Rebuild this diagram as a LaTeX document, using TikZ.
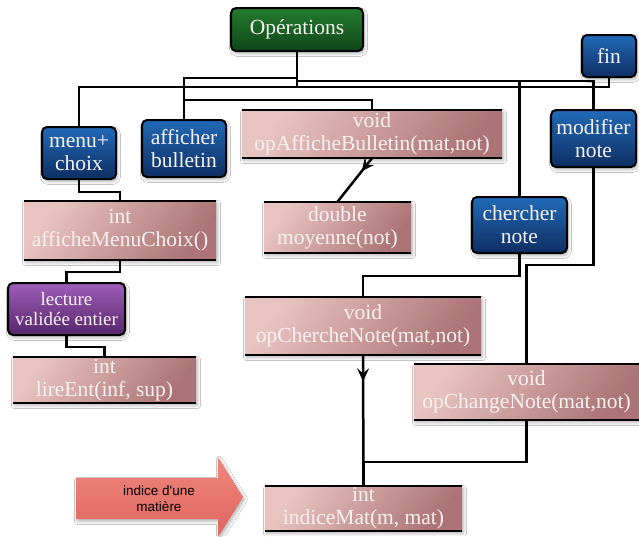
\documentclass[tikz,border=0pt]{standalone}
\usepackage{fontspec}
\setmainfont{Liberation Serif}
\newfontfamily\sansf{Liberation Sans}
\usetikzlibrary{shadows.blur,decorations.markings,arrows.meta}
\definecolor{blueT}{RGB}{33,106,184}
\definecolor{blueB}{RGB}{14,46,98}
\definecolor{greenT}{RGB}{36,124,46}
\definecolor{greenB}{RGB}{14,70,26}
\definecolor{purT}{RGB}{158,94,186}
\definecolor{purB}{RGB}{86,38,106}
\definecolor{pinkL}{RGB}{232,196,192}
\definecolor{pinkD}{RGB}{172,116,118}
\definecolor{salT}{RGB}{240,134,126}
\definecolor{salB}{RGB}{222,102,94}
\definecolor{txtW}{RGB}{248,242,242}
\tikzset{
  lbl/.style={font=\fontsize{21.5}{23}\selectfont, text=txtW, align=center, inner sep=0pt},
  soft/.style={blur shadow={shadow blur steps=6, shadow xshift=1.5pt, shadow yshift=-2.5pt, shadow blur radius=3pt, shadow opacity=30}},
  catbox/.style={lbl, draw=black, line width=2pt, rounded corners=5pt, soft},
  bluebox/.style={catbox, top color=blueT, bottom color=blueB},
  greenbox/.style={catbox, top color=greenT, bottom color=greenB},
  purbox/.style={catbox, top color=purT, bottom color=purB, font=\fontsize{19}{20}\selectfont},
  funcbox/.style={lbl, top color=pinkL, bottom color=pinkD, shading angle=55, soft},
  wire/.style={line width=2.5pt, draw=black},
  midarrow/.style={postaction={decorate}, decoration={markings, mark=at position #1 with {\arrow{Stealth[length=13pt,width=12pt,inset=5pt]}}}},
  bigarrow/.style={top color=salT, bottom color=salB, soft},
  arrowtext/.style={font=\sansf\fontsize{13.5}{16}\selectfont, text=black, align=center, inner sep=0pt}
}
\begin{document}
\begin{tikzpicture}[x=1pt,y=-1pt]
\useasboundingbox (0,0) rectangle (639,536);
\fill[white] (0,0) rectangle (639,536);

% category boxes
\node[greenbox, minimum width=132pt, minimum height=43pt] (ops) at (297,29.5) {Opérations};
\node[bluebox, minimum width=54pt, minimum height=42pt] (fin) at (609,56) {fin};
\node[bluebox, minimum width=85pt, minimum height=57pt] (mod) at (593.5,138.5) {modifier\\note};
\node[bluebox, minimum width=84pt, minimum height=57pt] (afb) at (184,148.5) {afficher\\bulletin};
\node[bluebox, minimum width=74pt, minimum height=52pt] (menu) at (79,153) {menu+\\choix};
\node[bluebox, minimum width=95pt, minimum height=56pt] (cher) at (519.5,225) {chercher\\note};
\node[purbox, minimum width=117pt, minimum height=52pt] (lect) at (66.5,309) {lecture\\validée entier};

% function boxes
\node[funcbox, minimum width=260pt, minimum height=48pt] (opa) at (372,134) {void\\opAfficheBulletin(mat,not)};
\node[funcbox, minimum width=192pt, minimum height=59pt] (amc) at (120,230.5) {int\\afficheMenuChoix()};
\node[funcbox, minimum width=183pt, minimum height=46pt] (lire) at (104.5,380) {int\\lireEnt(inf, sup)};
\node[funcbox, minimum width=147pt, minimum height=51pt] (moy) at (337.5,227.5) {double\\moyenne(not)};
\node[funcbox, minimum width=236pt, minimum height=58pt] (ocn) at (363,326) {void\\opChercheNote(mat,not)};
\node[funcbox, minimum width=225pt, minimum height=56pt] (ocg) at (526.5,392) {void\\opChangeNote(mat,not)};
\node[funcbox, minimum width=197pt, minimum height=45pt] (im) at (363.5,508.5) {int\\indiceMat(m, mat)};
\foreach \n in {opa,amc,lire,moy,ocn,ocg,im}{
  \draw[wire] (\n.north west) -- (\n.north east);
  \draw[wire] (\n.south west) -- (\n.south east);
}

% big arrow
\path[bigarrow] (76,478) -- (218,478) -- (218,457) -- (243,497) -- (218,537) -- (218,519) -- (76,519) -- cycle;
\node[arrowtext] (ilab) at (159,499) {indice d'une\\matière};

% connectors
\draw[wire] (ops.south) -- ++(0,26) -| (afb.north);
\draw[wire] (ops.south) -- ++(0,35) -| (menu.north);
\draw[wire] (ops.south) -- ++(0,35) -| (fin.south);
\draw[wire] (ops.south) -- ++(0,29) coordinate (jr) -| (mod.north);
\draw[wire] (cher.north |- jr) -- (cher.north);
\draw[wire] (afb.north) -- ++(0,-19) -| (opa.north);
\draw[wire, midarrow=0.3] (opa.south) -- (moy.north);
\draw[wire] (menu.south) -- ++(0,12) -| (amc.north);
\draw[wire] (amc.south) -- ++(0,12) -| (lect.north);
\draw[wire] (lect.south) -- ++(0,11) -| (lire.north);
\draw[wire] (cher.south) -- ++(0,22) -| (ocn.north);
\draw[wire] (mod.south) -- ++(0,97) -| (ocg.north);
\draw[wire, midarrow=0.2] (ocn.south) -- (im.north);
\draw[wire] (ocg.south) -- ++(0,42) -| (im.north);
\end{tikzpicture}
\end{document}
